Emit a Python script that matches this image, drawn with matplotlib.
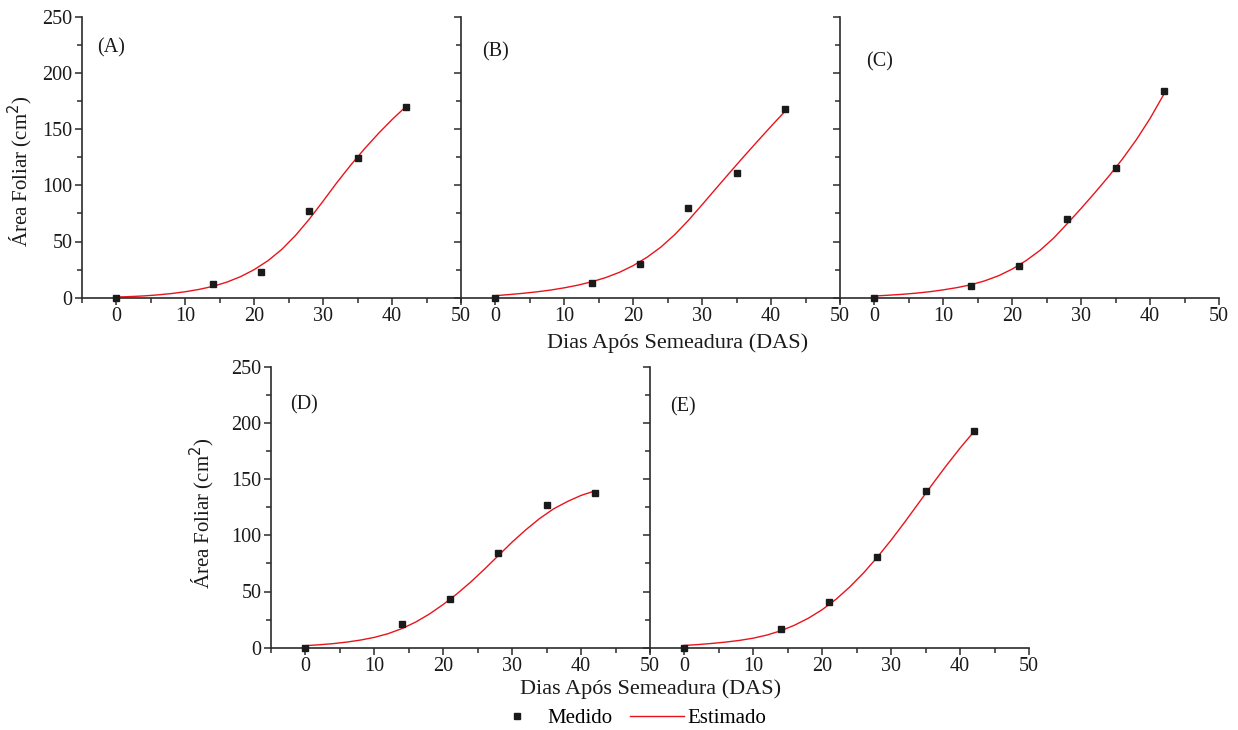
import matplotlib.pyplot as plt
from matplotlib.ticker import MultipleLocator
from matplotlib.lines import Line2D

plt.rcParams['font.family'] = ['Liberation Serif', 'DejaVu Serif']

# dados medidos (DAS, area foliar cm2)
das = [0, 14, 21, 28, 35, 42]
med_A = [0, 12, 23, 77, 124, 170]
med_B = [0, 13, 30, 80, 111, 168]
med_C = [0, 10.5, 28, 70, 115, 184]
med_D = [0, 21, 43, 84, 127, 138]
med_E = [0, 17, 41, 81, 139, 193]

# curva estimada (a cada 2 dias)
das_est = list(range(0, 43, 2))
est_A = [0.6, 1.0, 1.6, 2.5, 3.7, 5.3, 7.4, 10.1, 13.8, 18.7, 25, 33, 43, 55.5, 70, 86,
         102.5, 118, 132.5, 146, 158.5, 170]
est_B = [1.8, 2.8, 3.9, 5.2, 6.8, 8.8, 11.2, 14.2, 17.9, 22.6, 28.6, 36, 45, 56, 68.8,
         82.8, 97.1, 111.3, 125.3, 139, 152.5, 165.7]
est_C = [1.5, 2.2, 3.0, 4.0, 5.3, 7.0, 9.0, 11.5, 15, 19.5, 25.5, 33, 42, 53, 66, 79.5,
         93.5, 108, 123.5, 140.5, 159.5, 181]
est_D = [1.8, 2.6, 3.6, 5.0, 6.8, 9.2, 12.5, 17, 22.8, 30, 38.5, 48, 58.5, 70, 82, 94,
         105, 115, 123.5, 130, 135.5, 139.5]
est_E = [2, 2.8, 3.8, 5.0, 6.5, 8.5, 11.3, 15.1, 20.1, 26.3, 33.9, 43.1, 54.1, 66.6,
         80.6, 95.8, 112, 128.8, 145.6, 162, 177.6, 192.2]

paineis = ['(A)', '(B)', '(C)', '(D)', '(E)']
xlabel = 'Dias Após Semeadura (DAS)'
ylabel = 'Área Foliar (cm$^2$)'

fig = plt.figure(figsize=(12.38, 7.30), dpi=100)
W, H = 379 / 1238, 281 / 730
pos = [(82, 297.7), (461, 297.7), (840, 297.7), (271, 647.7), (650, 647.7)]
lab_pos = [(0.04, 0.889), (0.055, 0.874), (0.069, 0.839), (0.05, 0.864), (0.053, 0.857)]
ylab_pos = {0: (-0.124, 0.451), 3: (-0.142, 0.479)}
medidos = [med_A, med_B, med_C, med_D, med_E]
estimados = [est_A, est_B, est_C, est_D, est_E]

spcol = '#2b2b2b'
for i in range(5):
    px, py = pos[i]
    ax = fig.add_axes([px / 1238, (730 - py) / 730, W, H])
    ax.plot(das_est, estimados[i], color='#e8141c', lw=1.0, zorder=2)
    ax.plot(das, medidos[i], 's', color='#1a1a1a', ms=5, zorder=3, clip_on=False)
    ax.set_xlim(-5, 50)
    ax.set_ylim(0, 250)
    ax.spines['top'].set_visible(False)
    ax.spines['right'].set_visible(False)
    for s in ['left', 'bottom']:
        ax.spines[s].set_color(spcol)
        ax.spines[s].set_linewidth(1.2)
    ax.xaxis.set_major_locator(MultipleLocator(10))
    ax.xaxis.set_minor_locator(MultipleLocator(5))
    ax.yaxis.set_major_locator(MultipleLocator(50))
    ax.yaxis.set_minor_locator(MultipleLocator(25))
    ax.tick_params(which='both', direction='out', color=spcol, width=1.1,
                   labelsize=14.5, labelcolor='#1a1a1a', pad=2)
    ax.tick_params(which='major', length=5)
    ax.tick_params(which='minor', length=3.5)
    ax.patch.set_alpha(0)
    if i in (0, 3):
        ax.set_ylabel(ylabel, fontsize=15, color='#1a1a1a')
        ax.yaxis.set_label_coords(*ylab_pos[i])
    else:
        ax.tick_params(axis='y', labelleft=False)
    ax.text(lab_pos[i][0], lab_pos[i][1], paineis[i], transform=ax.transAxes,
            fontsize=14.5, color='#1a1a1a', ha='left', va='center')

fig.text(678 / 1238, 1 - 343 / 730, xlabel, fontsize=16, color='#1a1a1a',
         ha='center', va='center')
fig.text(651 / 1238, 1 - 689 / 730, xlabel, fontsize=16, color='#1a1a1a',
         ha='center', va='center')

handles = [Line2D([], [], marker='s', ls='none', color='#1a1a1a', ms=5),
           Line2D([], [], color='#e8141c', lw=1.0)]
fig.legend(handles, ['Medido', 'Estimado'], loc='center', ncol=2,
           bbox_to_anchor=(628 / 1238, 1 - 718 / 730), frameon=False,
           fontsize=15, handlelength=2.6, columnspacing=0.85, handletextpad=0.15,
           borderpad=0.2)

fig.savefig('out.png', dpi=100)
